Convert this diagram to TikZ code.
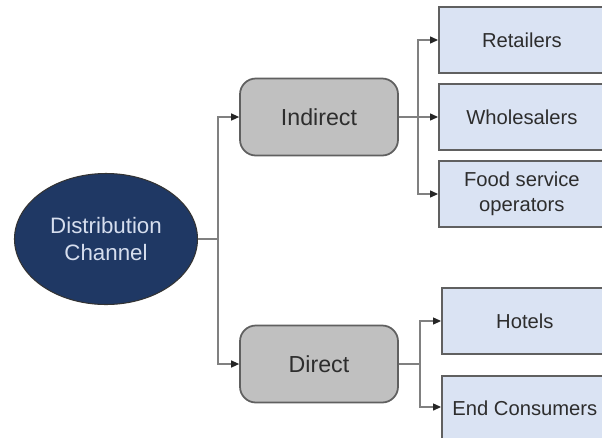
\documentclass[tikz,border=0pt]{standalone}
\usepackage{fontspec}
\setmainfont{Liberation Sans}
\usetikzlibrary{shapes.geometric,arrows.meta}
\definecolor{navy}{RGB}{31,56,100}
\definecolor{navytext}{RGB}{214,222,238}
\definecolor{midgrey}{RGB}{192,192,192}
\definecolor{boxblue}{RGB}{218,227,243}
\definecolor{edgegrey}{RGB}{96,96,96}
\definecolor{linkgrey}{RGB}{128,128,128}
\definecolor{inkgrey}{RGB}{45,45,45}
\newlength{\unitpx}
\setlength{\unitpx}{0.02cm}
\tikzset{
  root/.style={ellipse, draw=black!80, line width=0.6pt, fill=navy,
    minimum width=183\unitpx, minimum height=131\unitpx, inner sep=0pt,
    text=navytext, font=\fontsize{12.7}{15.5}\selectfont, align=center},
  branch/.style={rectangle, rounded corners=9pt, draw=edgegrey, line width=1pt,
    fill=midgrey, minimum width=158\unitpx, minimum height=77\unitpx,
    inner sep=0pt, text=inkgrey, font=\fontsize{13.2}{16}\selectfont},
  leaf/.style={rectangle, draw=edgegrey, line width=1pt, fill=boxblue,
    minimum width=166\unitpx, minimum height=66\unitpx, inner sep=0pt,
    text=inkgrey, font=\fontsize{11.5}{14}\selectfont, align=center},
  link/.style={draw=linkgrey, line width=0.6pt},
  tip/.style={link, -{Triangle[length=4.5pt,width=4pt,fill=black!85,color=black!85]}}
}
\begin{document}
\begin{tikzpicture}[x=0.02cm, y=-0.02cm]
  \useasboundingbox (0,0) rectangle (602,437);
  \clip (0,0) rectangle (602,437);
  \fill[white] (0,0) rectangle (602,437);

  % tree nodes
  \node[root] (dc) at (106,239) {Distribution\\Channel};
  \node[branch] (ind) at (319,117) {Indirect};
  \node[branch] (dir) at (319,364) {Direct};
  \node[leaf, anchor=west] (ret) at (438,40) {Retailers};
  \node[leaf, anchor=west] (who) at (438,117) {Wholesalers};
  \node[leaf, anchor=west] (food) at (438,194) {Food service\\operators};
  \node[leaf, anchor=west] (hot) at (441,321) {Hotels};
  \node[leaf, anchor=north west, text height=8pt] (end) at (441,375) {End Consumers};

  % branching points
  \coordinate (trunk) at (218,239);
  \coordinate (fork1) at (418,117);
  \coordinate (fork2) at (420,364);
  \coordinate (endin) at (441,407);

  % connectors
  \draw[link] (dc.east) -- (trunk);
  \draw[tip] (trunk) |- (ind.west);
  \draw[tip] (trunk) |- (dir.west);
  \draw[link] (ind.east) -- (fork1);
  \draw[tip] (fork1) |- (ret.west);
  \draw[tip] (fork1) -- (who.west);
  \draw[tip] (fork1) |- (food.west);
  \draw[link] (dir.east) -- (fork2);
  \draw[tip] (fork2) |- (hot.west);
  \draw[tip] (fork2) |- (endin);
\end{tikzpicture}
\end{document}
